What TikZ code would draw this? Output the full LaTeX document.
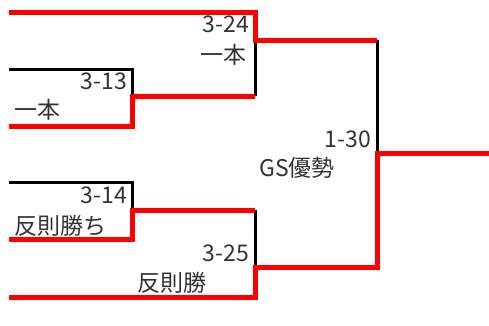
\documentclass[tikz,border=0pt]{standalone}
\usepackage{fontspec}
\setmainfont{Noto Sans CJK JP}
\usepackage{tikz}

\begin{document}
\begin{tikzpicture}[x=1pt,y=-1pt]
%style des traits : rouge = vainqueur, noir = battu
\tikzset{gagnant/.style={red,line width=5pt,line join=miter}} %définition du trait gagnant
\tikzset{battu/.style={black,line width=3pt}}
\tikzset{score/.style={inner sep=0pt,text=black!80,font=\fontsize{23}{27}\selectfont}}
\useasboundingbox (0,0) rectangle (489,325);

%entrées à gauche
\coordinate (e1) at (9,12); \coordinate (e2) at (9,69); \coordinate (e3) at (9,126);
\coordinate (e4) at (9,182); \coordinate (e5) at (9,239); \coordinate (e6) at (9,297);
%points des matchs
\coordinate (m313) at (132,96); \coordinate (m314) at (132,210);
\coordinate (m324) at (255,40); \coordinate (m324b) at (255,96);
\coordinate (m325t) at (255,210); \coordinate (m325) at (255,267);
\coordinate (m130t) at (377,40); \coordinate (m130) at (377,153);
\coordinate (fin) at (489,153);

%traits noirs d'abord
\draw[battu] (e2) -| (m313);
\draw[battu] (m324) -- (m324b);
\draw[battu] (e4) -| (m314);
\draw[battu] (m325t) -- (m325);
\draw[battu] (m130t) -- (m130);

%traits rouges par dessus
\draw[gagnant] (e1) -| (m324) -- (m130t);
\draw[gagnant] (e3) -| (m313) -- (m324b);
\draw[gagnant] (e5) -| (m314) -- (m325t);
\draw[gagnant] (e6) -| (m325) -| (m130) -- (fin);

%numéros et résultats
\node[score,anchor=base east] (n324) at (249,32) {3-24};
\node[score,anchor=base east] (r324) at (247,63.5) {一本};
\node[score,anchor=base east] (n313) at (127,89) {3-13};
\node[score,anchor=base west] (r313) at (14,118.5) {一本};
\node[score,anchor=base east] (n314) at (127,203) {3-14};
\node[score,anchor=base west] (r314) at (14,234.5) {反則勝ち};
\node[score,anchor=base east] (n325) at (249,261) {3-25};
\node[score,anchor=base west] (r325) at (137,291.5) {反則勝};
\node[score,anchor=base east] (n130) at (371,147) {1-30};
\node[score,anchor=base west] (r130) at (259,176) {GS優勢};
\end{tikzpicture}
\end{document}
